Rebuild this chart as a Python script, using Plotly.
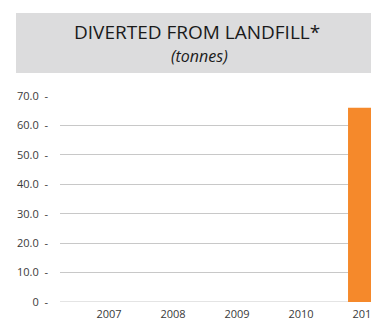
import plotly.graph_objects as go

# Diverted-from-landfill tonnage by year
years = ["2007", "2008", "2009", "2010", "2011"]
tonnes = [None, None, None, None, 66.0]

tick_vals = [0, 10, 20, 30, 40, 50, 60, 70]
tick_text = ["0\u00a0\u00a0-", "10.0\u00a0\u00a0-", "20.0\u00a0\u00a0-", "30.0\u00a0\u00a0-",
             "40.0\u00a0\u00a0-", "50.0\u00a0\u00a0-", "60.0\u00a0\u00a0-", "70.0\u00a0\u00a0-"]

W, H = 371, 329
L, R, T, B = 60, 0, 96, 27
plot_h = H - T - B
plot_w = W - L - R


def px_to_paper_y(y):
    return (H - B - y) / plot_h


def px_to_paper_x(x):
    return (x - L) / plot_w


fig = go.Figure(
    go.Bar(
        x=list(range(len(years))),
        y=tonnes,
        width=0.53,
        marker=dict(color="#F5892B", line=dict(width=0)),
        hoverinfo="skip",
    )
)

font = "Open Sans, Noto Sans, sans-serif"
text_col = "#3a3a3a"

fig.update_layout(
    template="none",
    width=W,
    height=H,
    margin=dict(l=L, r=R, t=T, b=B, pad=0),
    paper_bgcolor="white",
    plot_bgcolor="white",
    showlegend=False,
    font=dict(family=font, color=text_col),
    xaxis=dict(
        type="linear",
        range=[-0.766, 4.094],
        tickmode="array",
        tickvals=list(range(len(years))),
        ticktext=years,
        ticklabeloverflow="allow",
        showgrid=False,
        zeroline=False,
        showline=False,
        ticks="",
        ticklabelstandoff=4,
        tickfont=dict(family=font, size=11, color=text_col),
        fixedrange=True,
    ),
    yaxis=dict(
        range=[0, 70],
        tickmode="array",
        tickvals=tick_vals,
        ticktext=tick_text,
        showgrid=True,
        gridcolor="#C8C8C8",
        gridwidth=1,
        zeroline=False,
        showline=False,
        ticks="",
        ticklabelstandoff=11,
        tickfont=dict(family=font, size=11, color=text_col),
        fixedrange=True,
    ),
    shapes=[
        dict(
            type="rect",
            xref="paper",
            yref="paper",
            x0=px_to_paper_x(16),
            x1=1.0,
            y0=px_to_paper_y(73),
            y1=px_to_paper_y(13),
            fillcolor="#DCDCDD",
            line=dict(width=0),
            layer="below",
        ),
        dict(
            type="line",
            xref="paper",
            yref="y",
            x0=0,
            x1=1,
            y0=0,
            y1=0,
            line=dict(color="#C8C8C8", width=1),
            layer="below",
        ),
    ],
    annotations=[
        dict(
            text="DIVERTED FROM LANDFILL*",
            xref="paper",
            yref="paper",
            x=px_to_paper_x(197),
            y=px_to_paper_y(32),
            xanchor="center",
            yanchor="middle",
            showarrow=False,
            font=dict(family=font, size=19, color="#1a1a1a"),
        ),
        dict(
            text="<i>(tonnes)</i>",
            xref="paper",
            yref="paper",
            x=px_to_paper_x(199),
            y=px_to_paper_y(56),
            xanchor="center",
            yanchor="middle",
            showarrow=False,
            font=dict(family=font, size=16, color="#1a1a1a"),
        ),
    ],
)

fig.write_html("out.html")
